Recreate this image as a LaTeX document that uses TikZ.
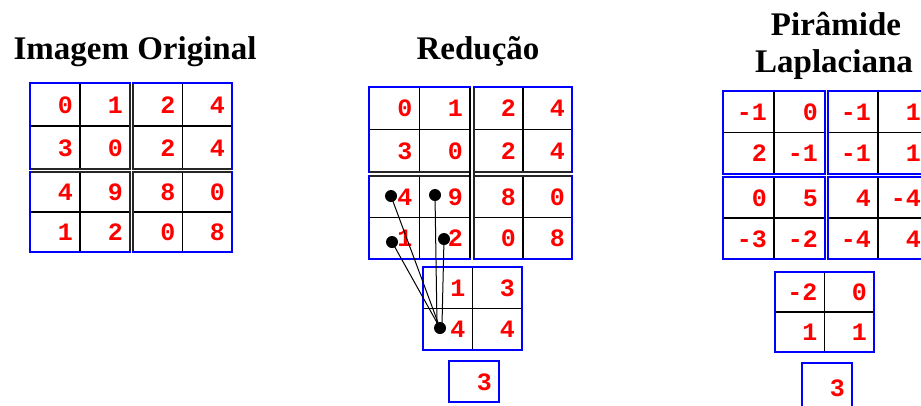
\documentclass[tikz,border=0pt]{standalone}
\usepackage{fontspec}
\setmainfont{Liberation Serif}
\newfontfamily\numfont{Liberation Mono}
\tikzset{
 gridline/.style={black,line width=1.2pt},
 blueline/.style={blue,line width=1.5pt},
 edgeblack/.style={black!85,line width=1.6pt},
 num/.style={anchor=base east,inner sep=0pt,text=red,font=\numfont\bfseries\fontsize{25}{25}\selectfont},
 title/.style={anchor=base,inner sep=0pt,font=\bfseries\fontsize{33}{33}\selectfont},
 dot/.style={circle,fill=black,inner sep=0pt,minimum size=12pt},
 link/.style={black,line width=1pt}
}
\newcommand\blk[9]{%
 \pgfmathsetmacro\xm{(#2+#4)/2}\pgfmathsetmacro\ymid{(#3+#5)/2}%
 \pgfmathsetmacro\ytop{(#3+\ymid)/2+8.5}\pgfmathsetmacro\ybot{(\ymid+#5)/2+8.5}%
 \draw[gridline] (\xm,#3) -- (\xm,#5) (#2,\ymid) -- (#4,\ymid);
 \draw[blueline] (#2,#3) rectangle (#4,#5);
 \node[num] (#1a) at (\xm-7,\ytop) {#6};
 \node[num] (#1b) at (#4-7,\ytop) {#7};
 \node[num] (#1c) at (\xm-7,\ybot) {#8};
 \node[num] (#1d) at (#4-7,\ybot) {#9};
}
\newcommand\one[6]{%
 \pgfmathsetmacro\ymid{(#3+#5)/2+8.5}%
 \draw[blueline] (#2,#3) rectangle (#4,#5);
 \node[num] (#1) at (#4-7,\ymid) {#6};
}
\begin{document}
\begin{tikzpicture}[x=1pt,y=-1pt]
\useasboundingbox (0,0) rectangle (921,405);
\clip (0,0) rectangle (921,405);
% titles
\node[title] (t1) at (135,59) {Imagem Original};
\node[title] (t2) at (478,59) {Redução};
\node[title] (t3a) at (836,35) {Pirâmide};
\node[title] (t3b) at (834,72) {Laplaciana};
% original image
\blk{oa}{30}{83}{130}{169}{0}{1}{3}{0}
\blk{ob}{133}{83}{232}{169}{2}{4}{2}{4}
\blk{oc}{30}{172}{130}{252}{4}{9}{1}{2}
\blk{od}{133}{172}{232}{252}{8}{0}{0}{8}
\draw[edgeblack] (130,84) -- (130,169) -- (31,169);
\draw[edgeblack] (133,84) -- (133,169) -- (231,169);
\draw[edgeblack] (130,251) -- (130,172) -- (31,172);
\draw[edgeblack] (133,251) -- (133,172) -- (231,172);
% reduction
\blk{ra}{369}{87}{470}{172}{0}{1}{3}{0}
\blk{rb}{474}{87}{572}{172}{2}{4}{2}{4}
\blk{rc}{369}{176}{470}{259}{4}{9}{1}{2}
\blk{rd}{474}{176}{572}{259}{8}{0}{0}{8}
\draw[edgeblack] (370,172) -- (470,172);
\draw[edgeblack] (370,176) -- (470,176);
\draw[edgeblack] (474,172) -- (571,172);
\draw[edgeblack] (474,176) -- (571,176);
\draw[black,line width=2.6pt] (470,88) -- (470,258);
\draw[edgeblack] (474,88) -- (474,258);
\blk{rs}{423}{267}{522}{350}{1}{3}{4}{4}
\draw[blue,line width=2.6pt] (522,267) -- (522,350);
\one{rt}{449}{361}{499}{402}{3}
% dots and links
\node[dot] (p1) at (391,196) {};
\node[dot] (p2) at (435,195) {};
\node[dot] (p3) at (392,242) {};
\node[dot] (p4) at (444,239) {};
\node[dot] (q) at (440,328) {};
\draw[link] (p1.center) -- (q.center);
\draw[link] (p3.center) -- (q.center);
\draw[link] (p2.center) -- (437,325);
\draw[link] (p4.center) -- (442,325);
% laplacian pyramid
\blk{la}{723}{91}{825}{174}{-1}{0}{2}{-1}
\blk{lb}{828}{91}{928}{174}{-1}{1}{-1}{1}
\blk{lc}{723}{177}{825}{259}{0}{5}{-3}{-2}
\blk{ld}{828}{177}{928}{259}{4}{-4}{-4}{4}
\draw[blue,line width=2.8pt] (825,91) -- (825,174) (825,177) -- (825,259);
\blk{ls}{775}{272}{874}{352}{-2}{0}{1}{1}
\draw[blue,line width=2.6pt] (874,272) -- (874,352);
\one{lt}{802}{363}{852}{412}{3}
\draw[blue,line width=2.6pt] (802,363) -- (852,363);
\end{tikzpicture}
\end{document}
